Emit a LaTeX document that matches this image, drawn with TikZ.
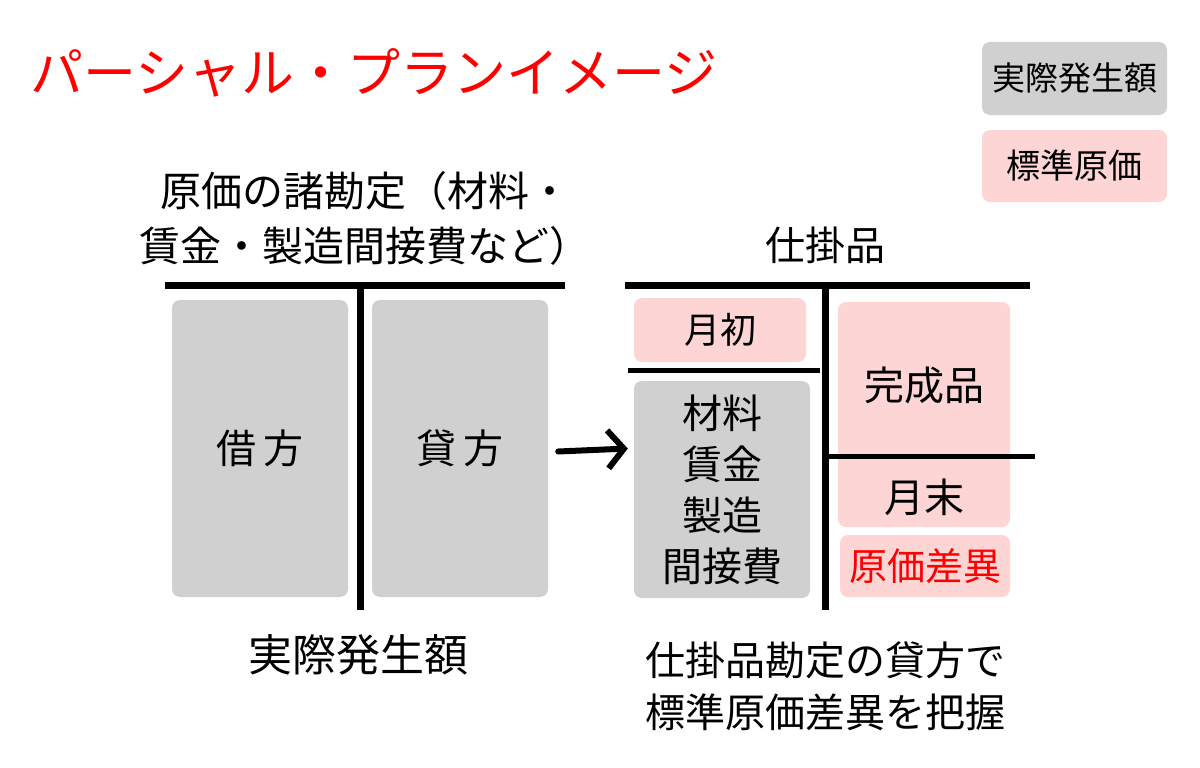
\documentclass[tikz,border=0pt]{standalone}
\usepackage{fontspec}
\setmainfont{Noto Sans CJK JP}
\usepackage{xcolor}
\usetikzlibrary{arrows.meta,positioning}

\definecolor{actualgray}{HTML}{D0D0D0}
\definecolor{stdpink}{HTML}{FDD5D5}
\definecolor{titlered}{HTML}{FF0000}

\begin{document}
\begin{tikzpicture}[x=1pt,y=-1pt]
% Define styles
\tikzstyle{actual}=[rectangle, rounded corners=8pt, fill=actualgray, inner sep=0pt]
\tikzstyle{standard}=[rectangle, rounded corners=8pt, fill=stdpink, inner sep=0pt]
\tikzstyle{label}=[font=\fontsize{40}{52}\selectfont, align=center, inner sep=0pt]
\tikzstyle{tline}=[line width=7pt]
\tikzstyle{subline}=[line width=5pt]
\tikzstyle{flow}=[line width=6pt, line cap=round, -{Straight Barb[length=16pt,width=38pt,line width=6pt]}]

\useasboundingbox (0,0) rectangle (1200,768);

% Title
\node[anchor=west, text=titlered, font=\fontsize{53}{60}\selectfont, inner sep=0pt] (title) at (30,73) {パーシャル・プランイメージ};

% Legend
\node[actual, minimum width=185pt, minimum height=73pt, font=\fontsize{33}{40}\selectfont] (legact) at (1074.5,78.5) {実際発生額};
\node[standard, minimum width=185pt, minimum height=72pt, font=\fontsize{34}{40}\selectfont] (legstd) at (1074.5,166) {標準原価};

% Cost accounts
\node[label, font=\fontsize{41}{55}\selectfont] (acchead) at (365,218) {原価の諸勘定（材料・\\賃金・製造間接費など）};
\coordinate (lTl) at (165,285);
\coordinate (lTr) at (565,285);
\coordinate (lTt) at (360,285);
\coordinate (lTb) at (360,610);
\draw[tline] (lTl) -- (lTr);
\draw[tline] (lTt) -- (lTb);

\node[actual, minimum width=176pt, minimum height=297pt] (debit) at (260,448.5) {};
\node[label] at (debit) {借\,方};
\node[actual, minimum width=176pt, minimum height=297pt] (credit) at (460,448.5) {};
\node[label] at (credit) {貸\,方};
\node[label, font=\fontsize{44}{52}\selectfont] (actlabel) at (358,655) {実際発生額};

% Work in process
\node[label] (wiphead) at (825,245) {仕掛品};
\coordinate (rTl) at (625,285);
\coordinate (rTr) at (1030,285);
\coordinate (rTt) at (825,285);
\coordinate (rTb) at (825,610);
\draw[tline] (rTl) -- (rTr);
\draw[tline] (rTt) -- (rTb);

\node[standard, minimum width=172pt, minimum height=64pt, font=\fontsize{36}{40}\selectfont] (begin) at (720,330) {月初};
\coordinate (bl) at (628,370);
\coordinate (br) at (820,370);
\draw[subline] (bl) -- (br);

\node[actual, minimum width=176pt, minimum height=217pt] (input) at (722,489.5) {};
\node[label, font=\fontsize{40}{51}\selectfont] at (input) {材料\\賃金\\製造\\間接費};

\node[standard, minimum width=172pt, minimum height=225pt] (output) at (924,414.5) {};
\node[label] (done) at (924,385) {完成品};
\node[label] (ending) at (924,497) {月末};
\coordinate (el) at (825,456);
\coordinate (er) at (1035,456);
\draw[subline] (el) -- (er);

\node[standard, minimum width=170pt, minimum height=62pt, text=titlered, font=\fontsize{38}{40}\selectfont] (variance) at (925,566) {原価差異};

\node[label] (note) at (825,686) {仕掛品勘定の貸方で\\標準原価差異を把握};

% Transfer
\draw[flow] ([xshift=10pt,yshift=-3pt]credit.east) -- ([xshift=-6pt]credit.east -| input.west);

\end{tikzpicture}
\end{document}
